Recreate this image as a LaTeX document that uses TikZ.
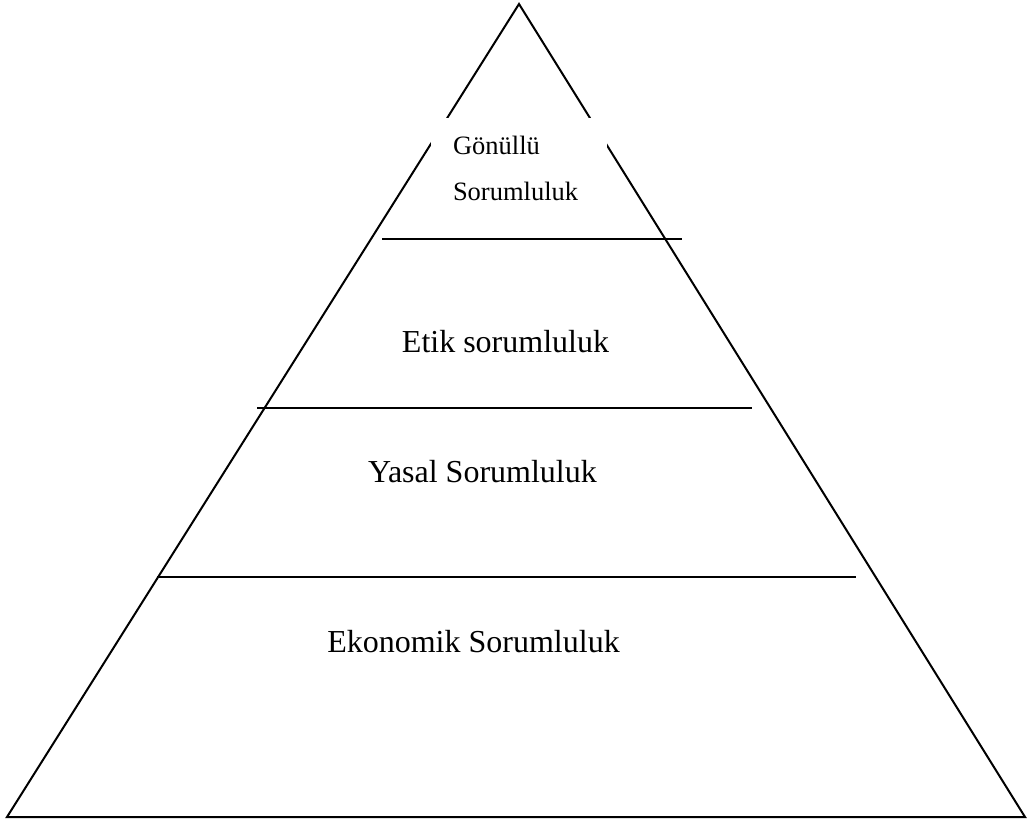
\documentclass[tikz,border=0pt]{standalone}
\usepackage{fontspec}
\setmainfont{Liberation Serif}
\tikzset{pyr/.style={x=0.5pt,y=-0.5pt,line width=1pt},
  lvl/.style={anchor=base,inner sep=0pt,font=\fontsize{16}{19}\selectfont},
  toplvl/.style={anchor=base west,inner sep=0pt,font=\fontsize{13.25}{16}\selectfont}}
\begin{document}
\begin{tikzpicture}[pyr]
    \useasboundingbox (0,0) rectangle (1027,823);
    \coordinate (apex) at (519,4);
    \coordinate (bl) at (7,817);
    \coordinate (br) at (1025,817);
    \draw[line join=miter] (bl) -- (apex) -- (br) -- cycle;
    % level separators
    \foreach \y/\xa/\xb in {239/382/682, 408/257/752, 577/157/856}
      \draw (\xa,\y) -- (\xb,\y);
    % white text box on top level
    \fill[white] (431,118) rectangle (607,218);
    \node[toplvl] (gon) at (452,155) {Gönüllü};
    \node[toplvl] (gonsor) at (452,201) {Sorumluluk};
    \node[lvl] (etik) at (505.5,352) {Etik sorumluluk};
    \node[lvl] (yasal) at (482.5,482) {Yasal Sorumluluk};
    \node[lvl] (ekon) at (473.5,652) {Ekonomik Sorumluluk};
\end{tikzpicture}
\end{document}
